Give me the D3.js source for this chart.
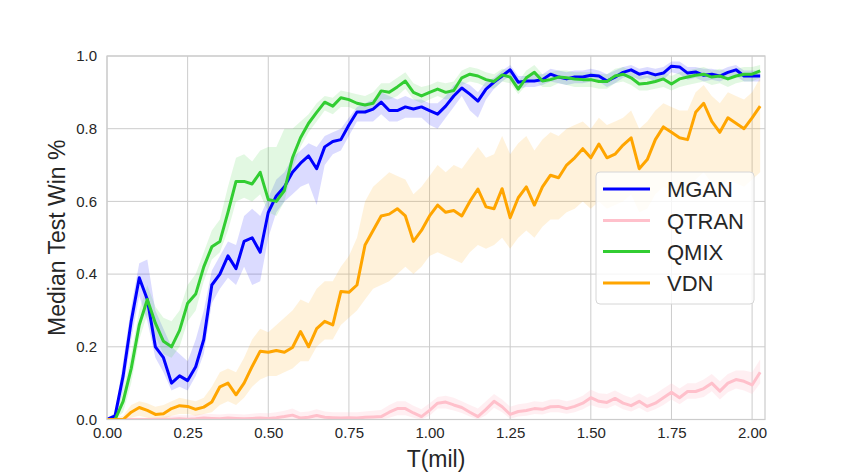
<!DOCTYPE html>
<html>
<head>
<meta charset="utf-8">
<script src="https://cdn.jsdelivr.net/npm/d3@7"></script>
<style>
  html, body { margin: 0; padding: 0; background: #ffffff; }
  svg { display: block; font-family: "Liberation Sans", Arial, sans-serif; }
</style>
</head>
<body>
<svg id="chart" width="850" height="472"></svg>
<script>
// ---------------- DATA ----------------
const T = [0,0.025,0.05,0.075,0.1,0.125,0.15,0.175,0.2,0.225,
  0.25,0.275,0.3,0.325,0.35,0.375,0.4,0.425,0.45,0.475,
  0.5,0.525,0.55,0.575,0.6,0.625,0.65,0.675,0.7,0.725,
  0.75,0.775,0.8,0.825,0.85,0.875,0.9,0.925,0.95,0.975,
  1.0,1.025,1.05,1.075,1.1,1.125,1.15,1.175,1.2,1.225,
  1.25,1.275,1.3,1.325,1.35,1.375,1.4,1.425,1.45,1.475,
  1.5,1.525,1.55,1.575,1.6,1.625,1.65,1.675,1.7,1.725,
  1.75,1.775,1.8,1.825,1.85,1.875,1.9,1.925,1.95,1.975,
  2.0,2.025];

const seriesNames = ["MGAN", "QTRAN", "QMIX", "VDN"];

const mgan = [0,0.01,0.12,0.27,0.39,0.33,0.20,0.17,0.10,0.12,
  0.107,0.145,0.22,0.37,0.40,0.45,0.415,0.49,0.50,0.46,
  0.57,0.615,0.64,0.68,0.705,0.725,0.69,0.75,0.765,0.77,
  0.81,0.846,0.846,0.854,0.873,0.85,0.85,0.86,0.854,0.86,
  0.85,0.84,0.862,0.89,0.912,0.895,0.876,0.909,0.928,0.945,
  0.962,0.928,0.931,0.931,0.935,0.95,0.942,0.937,0.942,0.942,
  0.947,0.945,0.931,0.942,0.955,0.962,0.95,0.955,0.948,0.953,
  0.972,0.97,0.953,0.956,0.947,0.95,0.945,0.955,0.962,0.945,
  0.945,0.945];
const mganLo = [0,0,0.08,0.22,0.34,0.27,0.17,0.13,0.08,0.09,
  0.08,0.12,0.18,0.32,0.36,0.39,0.37,0.42,0.37,0.38,
  0.50,0.57,0.60,0.62,0.64,0.65,0.59,0.70,0.73,0.74,
  0.78,0.82,0.82,0.82,0.84,0.82,0.82,0.83,0.83,0.83,
  0.81,0.80,0.83,0.86,0.89,0.85,0.83,0.88,0.91,0.93,
  0.945,0.91,0.915,0.915,0.92,0.93,0.925,0.92,0.925,0.925,
  0.93,0.93,0.915,0.925,0.94,0.945,0.935,0.94,0.93,0.935,
  0.955,0.95,0.935,0.94,0.93,0.935,0.93,0.94,0.945,0.93,
  0.93,0.93];
const mganHi = [0,0.02,0.16,0.31,0.43,0.44,0.30,0.25,0.20,0.18,
  0.16,0.22,0.30,0.41,0.45,0.49,0.48,0.56,0.58,0.56,
  0.61,0.66,0.68,0.72,0.74,0.76,0.75,0.78,0.79,0.80,
  0.83,0.86,0.87,0.88,0.90,0.89,0.88,0.89,0.88,0.88,
  0.87,0.87,0.89,0.92,0.93,0.92,0.90,0.93,0.94,0.96,
  0.975,0.945,0.945,0.95,0.95,0.965,0.96,0.955,0.96,0.96,
  0.965,0.96,0.95,0.96,0.97,0.975,0.965,0.97,0.965,0.97,
  0.985,0.985,0.97,0.97,0.965,0.965,0.96,0.97,0.975,0.96,
  0.96,0.96];

const qtran = [0,0,0,0,0,0,0,0,0.001,0.002,
  0.001,0.002,0.004,0.003,0.002,0.004,0.003,0.002,0.003,0.004,
  0.003,0.005,0.008,0.012,0.004,0.006,0.011,0.006,0.005,0.004,
  0.005,0.004,0.006,0.007,0.008,0.02,0.03,0.03,0.018,0.008,
  0.025,0.045,0.048,0.04,0.033,0.02,0.008,0.028,0.05,0.035,
  0.014,0.022,0.025,0.03,0.028,0.035,0.036,0.03,0.036,0.045,
  0.06,0.05,0.047,0.058,0.045,0.038,0.05,0.036,0.045,0.06,
  0.075,0.06,0.077,0.077,0.085,0.10,0.078,0.10,0.11,0.105,
  0.095,0.13];
const qtranLo = [0,0,0,0,0,0,0,0,0,0,
  0,0,0,0,0,0,0,0,0,0,
  0,0,0,0,0,0,0,0,0,0,
  0,0,0,0,0,0.005,0.012,0.012,0.005,0,
  0.01,0.03,0.03,0.025,0.018,0.008,0,0.012,0.032,0.02,
  0.002,0.008,0.01,0.015,0.014,0.02,0.02,0.016,0.02,0.028,
  0.04,0.032,0.03,0.04,0.028,0.022,0.032,0.02,0.028,0.04,
  0.055,0.042,0.057,0.057,0.062,0.078,0.055,0.075,0.085,0.08,
  0.07,0.1];
const qtranHi = [0,0.003,0.005,0.005,0.005,0.005,0.006,0.008,0.01,0.012,
  0.012,0.013,0.016,0.015,0.014,0.016,0.015,0.014,0.016,0.018,
  0.017,0.02,0.024,0.03,0.02,0.022,0.028,0.022,0.02,0.02,
  0.02,0.02,0.022,0.024,0.026,0.04,0.05,0.05,0.038,0.028,
  0.045,0.062,0.065,0.06,0.05,0.04,0.03,0.05,0.07,0.055,
  0.035,0.042,0.045,0.05,0.048,0.055,0.056,0.05,0.056,0.065,
  0.082,0.072,0.07,0.08,0.068,0.06,0.072,0.06,0.07,0.085,
  0.1,0.085,0.1,0.1,0.11,0.125,0.105,0.125,0.135,0.135,
  0.13,0.165];

const qmix = [0,0,0.05,0.14,0.26,0.33,0.265,0.215,0.20,0.245,
  0.32,0.345,0.42,0.475,0.49,0.57,0.655,0.655,0.648,0.68,
  0.605,0.60,0.63,0.72,0.775,0.815,0.845,0.873,0.862,0.885,
  0.88,0.87,0.865,0.87,0.904,0.90,0.915,0.931,0.90,0.89,
  0.90,0.909,0.90,0.905,0.94,0.95,0.945,0.935,0.93,0.948,
  0.942,0.909,0.94,0.955,0.931,0.935,0.942,0.94,0.937,0.935,
  0.935,0.93,0.93,0.945,0.95,0.94,0.923,0.925,0.93,0.937,
  0.923,0.937,0.942,0.947,0.95,0.942,0.945,0.937,0.945,0.95,
  0.95,0.959];
const qmixLo = [0,0,0.02,0.10,0.22,0.29,0.23,0.18,0.17,0.20,
  0.27,0.30,0.38,0.44,0.46,0.52,0.60,0.61,0.60,0.62,
  0.57,0.56,0.60,0.69,0.75,0.79,0.82,0.85,0.84,0.86,
  0.86,0.85,0.84,0.85,0.88,0.88,0.89,0.91,0.88,0.87,
  0.88,0.89,0.88,0.885,0.92,0.93,0.925,0.915,0.91,0.93,
  0.925,0.895,0.92,0.935,0.915,0.915,0.925,0.92,0.915,0.915,
  0.915,0.91,0.91,0.925,0.93,0.92,0.905,0.905,0.91,0.915,
  0.905,0.915,0.92,0.925,0.93,0.92,0.925,0.915,0.925,0.93,
  0.93,0.94];
const qmixHi = [0,0.01,0.08,0.18,0.30,0.37,0.31,0.28,0.27,0.30,
  0.37,0.40,0.46,0.52,0.55,0.64,0.72,0.73,0.71,0.74,
  0.75,0.75,0.80,0.80,0.82,0.84,0.87,0.89,0.885,0.905,
  0.90,0.895,0.89,0.90,0.925,0.925,0.94,0.955,0.925,0.915,
  0.92,0.93,0.925,0.93,0.96,0.97,0.965,0.955,0.95,0.965,
  0.96,0.93,0.96,0.975,0.95,0.955,0.96,0.96,0.955,0.955,
  0.955,0.95,0.95,0.965,0.97,0.96,0.945,0.945,0.95,0.955,
  0.945,0.955,0.96,0.965,0.97,0.96,0.965,0.955,0.965,0.97,
  0.97,0.975];

const vdn = [0,0,0,0.02,0.033,0.025,0.014,0.016,0.03,0.038,
  0.036,0.028,0.034,0.048,0.09,0.10,0.068,0.10,0.146,0.188,
  0.185,0.19,0.185,0.198,0.242,0.20,0.25,0.27,0.26,0.352,
  0.35,0.37,0.48,0.52,0.56,0.565,0.58,0.56,0.49,0.52,
  0.56,0.59,0.57,0.575,0.56,0.60,0.634,0.585,0.58,0.635,
  0.555,0.61,0.64,0.59,0.64,0.672,0.665,0.70,0.72,0.745,
  0.72,0.758,0.72,0.73,0.755,0.775,0.69,0.715,0.77,0.805,
  0.79,0.775,0.77,0.845,0.87,0.82,0.79,0.83,0.815,0.80,
  0.83,0.862];
const vdnLo = [0,0,0,0.005,0.01,0.005,0,0,0.01,0.015,
  0.015,0.01,0.015,0.02,0.04,0.05,0.04,0.06,0.09,0.11,
  0.12,0.12,0.13,0.14,0.16,0.16,0.20,0.22,0.22,0.26,
  0.28,0.30,0.33,0.36,0.37,0.38,0.40,0.42,0.40,0.42,
  0.45,0.46,0.45,0.44,0.43,0.46,0.48,0.47,0.48,0.50,
  0.47,0.50,0.52,0.50,0.53,0.55,0.55,0.57,0.58,0.60,
  0.58,0.60,0.58,0.59,0.60,0.62,0.57,0.58,0.62,0.64,
  0.63,0.62,0.62,0.66,0.68,0.65,0.63,0.66,0.65,0.64,
  0.66,0.68];
const vdnHi = [0,0.005,0.01,0.04,0.05,0.045,0.035,0.04,0.05,0.06,
  0.055,0.05,0.06,0.09,0.13,0.14,0.13,0.17,0.22,0.25,
  0.24,0.26,0.28,0.30,0.33,0.32,0.36,0.38,0.38,0.42,
  0.45,0.50,0.60,0.64,0.66,0.68,0.67,0.66,0.62,0.64,
  0.67,0.70,0.68,0.70,0.69,0.72,0.75,0.72,0.73,0.78,
  0.73,0.76,0.78,0.74,0.77,0.79,0.78,0.80,0.81,0.82,
  0.80,0.83,0.81,0.82,0.83,0.85,0.80,0.82,0.85,0.87,
  0.86,0.85,0.85,0.90,0.92,0.89,0.87,0.90,0.89,0.88,
  0.90,0.94];

const seriesColors = ["#0000ff", "#ffc0cb", "#32cd32", "#ffa500"];
const xTicks = [0, 0.25, 0.5, 0.75, 1.0, 1.25, 1.5, 1.75, 2.0];
const yTicks = [0, 0.2, 0.4, 0.6, 0.8, 1.0];
const xLabel = "T(mil)";
const yLabel = "Median Test Win %";

// ---------------- CHART ----------------
(function () {
const svg = d3.select("#chart");
const pL = 107, pR = 765, pT = 56, pB = 419.5;
const x = d3.scaleLinear().domain([0, 2.04]).range([pL, pR]);
const y = d3.scaleLinear().domain([0, 1]).range([pB, pT]);

svg.append("rect").attr("width", 850).attr("height", 472).attr("fill", "#ffffff");

// grid
const grid = svg.append("g");
grid.selectAll("line.vx").data(xTicks).enter().append("line")
  .attr("x1", d => x(d)).attr("x2", d => x(d))
  .attr("y1", pT).attr("y2", pB)
  .attr("stroke", "#cccccc").attr("stroke-width", 1);
grid.selectAll("line.hy").data(yTicks).enter().append("line")
  .attr("x1", pL).attr("x2", pR)
  .attr("y1", d => y(d)).attr("y2", d => y(d))
  .attr("stroke", "#cccccc").attr("stroke-width", 1);

svg.append("defs").append("clipPath").attr("id", "clip")
  .append("rect").attr("x", pL).attr("y", pT)
  .attr("width", pR - pL).attr("height", pB - pT);

const series = [
  { name: seriesNames[0], v: mgan, lo: mganLo, hi: mganHi, c: seriesColors[0] },
  { name: seriesNames[1], v: qtran, lo: qtranLo, hi: qtranHi, c: seriesColors[1] },
  { name: seriesNames[2], v: qmix, lo: qmixLo, hi: qmixHi, c: seriesColors[2] },
  { name: seriesNames[3], v: vdn, lo: vdnLo, hi: vdnHi, c: seriesColors[3] }
];

const plot = svg.append("g").attr("clip-path", "url(#clip)");
const area = d3.area()
  .x((d, i) => x(T[i]))
  .y0(d => y(d[0]))
  .y1(d => y(d[1]));
const line = d3.line()
  .x((d, i) => x(T[i]))
  .y(d => y(d));

series.forEach(s => {
  const band = s.lo.map((l, i) => [l, s.hi[i]]);
  plot.append("path").datum(band)
    .attr("d", area)
    .attr("fill", s.c)
    .attr("fill-opacity", s.name === "QTRAN" ? 0.25 : 0.14)
    .attr("stroke", "none");
});
series.forEach(s => {
  plot.append("path").datum(s.v)
    .attr("d", line)
    .attr("fill", "none")
    .attr("stroke", s.c)
    .attr("stroke-width", 3)
    .attr("stroke-linejoin", "round")
    .attr("stroke-linecap", "butt");
});

// frame
svg.append("rect").attr("x", pL).attr("y", pT)
  .attr("width", pR - pL).attr("height", pB - pT)
  .attr("fill", "none").attr("stroke", "#cccccc").attr("stroke-width", 1.2);

// axes
const xAxis = d3.axisBottom(x).tickValues(xTicks).tickFormat(d3.format(".2f")).tickSize(0).tickPadding(8);
const yAxis = d3.axisLeft(y).tickValues(yTicks).tickFormat(d3.format(".1f")).tickSize(0).tickPadding(10);

const gx = svg.append("g").attr("transform", `translate(0,${pB})`).call(xAxis);
const gy = svg.append("g").attr("transform", `translate(${pL},0)`).call(yAxis);
[gx, gy].forEach(g => {
  g.select(".domain").remove();
  g.selectAll("text")
    .attr("fill", "#262626")
    .style("font-family", "'Liberation Sans', Arial, sans-serif")
    .style("font-size", "15px");
});

svg.append("text")
  .attr("x", (pL + pR) / 2).attr("y", 467)
  .attr("text-anchor", "middle")
  .attr("fill", "#262626")
  .style("font-size", "23px")
  .text(xLabel);

svg.append("text")
  .attr("transform", `translate(65,${(pT + pB) / 2}) rotate(-90)`)
  .attr("text-anchor", "middle")
  .attr("fill", "#262626")
  .style("font-size", "23px")
  .text(yLabel);

// legend
const lg = svg.append("g");
lg.append("rect").attr("x", 596).attr("y", 172).attr("width", 158).attr("height", 132)
  .attr("rx", 4).attr("ry", 4)
  .attr("fill", "#ffffff").attr("fill-opacity", 0.8)
  .attr("stroke", "#d6d6d6").attr("stroke-width", 1);
const rowY = [189, 220.5, 251.5, 283];
series.forEach((s, i) => {
  lg.append("line").attr("x1", 603).attr("x2", 650)
    .attr("y1", rowY[i]).attr("y2", rowY[i])
    .attr("stroke", s.c).attr("stroke-width", 3);
  lg.append("text").attr("x", 667).attr("y", rowY[i] + 8)
    .attr("fill", "#262626")
    .style("font-size", "22px")
    .text(s.name);
});
})();
</script>
</body>
</html>
